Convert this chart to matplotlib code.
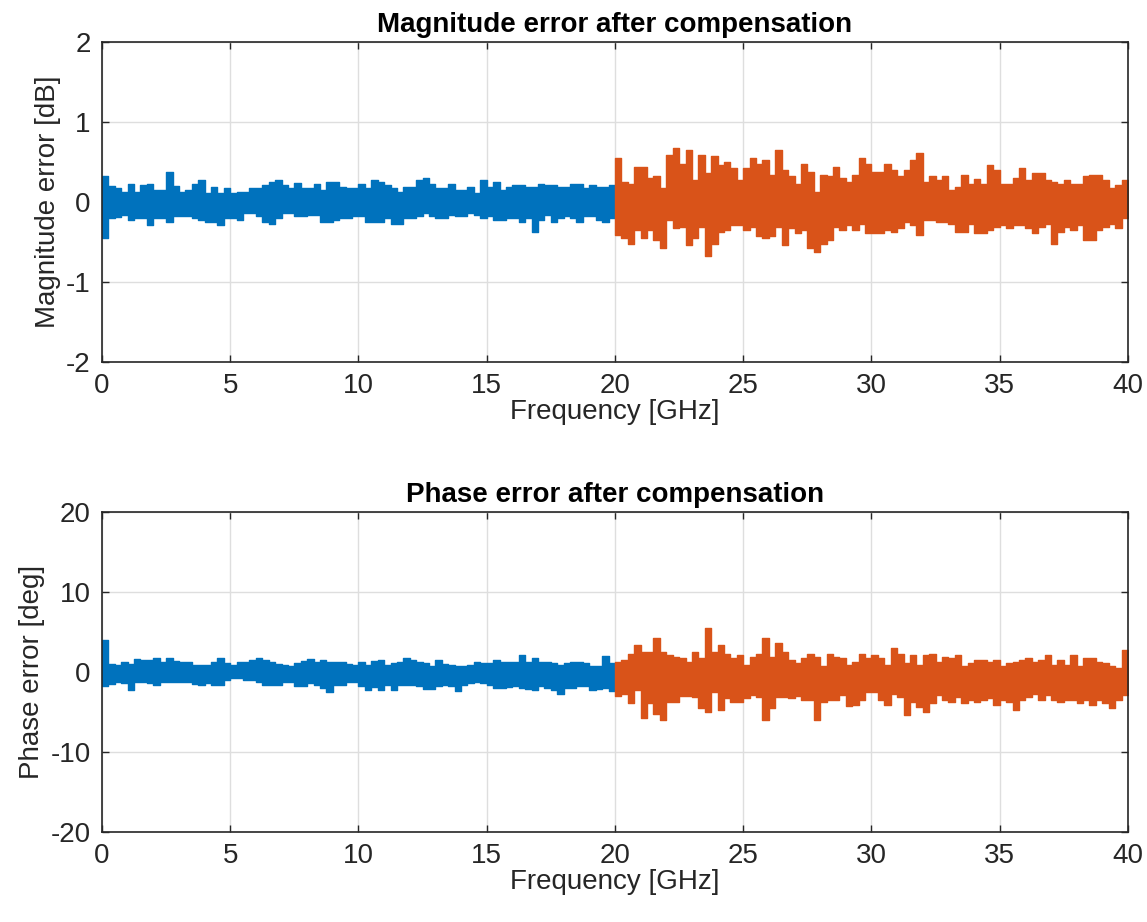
import numpy as np
import matplotlib
matplotlib.use('Agg')
import matplotlib.pyplot as plt

plt.rcParams['font.family'] = ['Liberation Sans', 'DejaVu Sans']
plt.rcParams['axes.unicode_minus'] = False

# frequency grid (GHz): envelope read in 0.25 GHz bins
bin_width = 0.25
band1_start = 0.0
band2_start = 20.0

x_ticks = [0, 5, 10, 15, 20, 25, 30, 35, 40]
mag_yticks = [-2, -1, 0, 1, 2]
phase_yticks = [-20, -10, 0, 10, 20]

# Magnitude error [dB], 0-20 GHz (upper / lower envelope of the trace)
mag_band1_upper = [0.33, 0.2, 0.17, 0.13, 0.23, 0.13, 0.21, 0.23, 0.15, 0.15,
                   0.38, 0.2, 0.13, 0.15, 0.23, 0.27, 0.11, 0.19, 0.11, 0.17,
                   0.11, 0.13, 0.13, 0.17, 0.17, 0.21, 0.25, 0.27, 0.21, 0.17,
                   0.24, 0.17, 0.17, 0.23, 0.15, 0.25, 0.25, 0.19, 0.17, 0.17,
                   0.23, 0.17, 0.27, 0.25, 0.21, 0.17, 0.13, 0.19, 0.19, 0.27,
                   0.3, 0.23, 0.17, 0.17, 0.23, 0.15, 0.15, 0.19, 0.11, 0.27,
                   0.19, 0.25, 0.15, 0.19, 0.21, 0.21, 0.19, 0.19, 0.23, 0.21,
                   0.21, 0.19, 0.19, 0.23, 0.23, 0.17, 0.21, 0.19, 0.19, 0.21]
mag_band1_lower = [-0.45, -0.2, -0.19, -0.16, -0.22, -0.2, -0.2, -0.29, -0.2, -0.2,
                   -0.25, -0.18, -0.18, -0.18, -0.2, -0.22, -0.25, -0.25, -0.29, -0.2,
                   -0.2, -0.22, -0.14, -0.14, -0.18, -0.25, -0.27, -0.2, -0.14, -0.14,
                   -0.18, -0.18, -0.16, -0.16, -0.25, -0.25, -0.22, -0.2, -0.2, -0.18,
                   -0.18, -0.25, -0.25, -0.25, -0.2, -0.27, -0.27, -0.2, -0.2, -0.17,
                   -0.14, -0.17, -0.2, -0.2, -0.16, -0.18, -0.18, -0.14, -0.16, -0.2,
                   -0.18, -0.22, -0.22, -0.2, -0.2, -0.25, -0.2, -0.37, -0.22, -0.16,
                   -0.25, -0.2, -0.18, -0.2, -0.25, -0.18, -0.18, -0.22, -0.25, -0.2]
# Magnitude error [dB], 20-40 GHz
mag_band2_upper = [0.55, 0.25, 0.23, 0.44, 0.44, 0.3, 0.32, 0.17, 0.59, 0.67,
                   0.48, 0.65, 0.27, 0.59, 0.36, 0.57, 0.46, 0.5, 0.42, 0.27,
                   0.42, 0.55, 0.48, 0.52, 0.34, 0.65, 0.4, 0.32, 0.23, 0.48,
                   0.38, 0.13, 0.34, 0.32, 0.44, 0.3, 0.25, 0.34, 0.55, 0.48,
                   0.38, 0.38, 0.48, 0.4, 0.33, 0.4, 0.52, 0.61, 0.25, 0.32,
                   0.27, 0.32, 0.15, 0.19, 0.34, 0.23, 0.29, 0.23, 0.46, 0.4,
                   0.23, 0.23, 0.3, 0.42, 0.27, 0.36, 0.36, 0.27, 0.25, 0.23,
                   0.27, 0.23, 0.23, 0.32, 0.34, 0.34, 0.27, 0.17, 0.21, 0.27]
mag_band2_lower = [-0.41, -0.45, -0.52, -0.35, -0.45, -0.35, -0.48, -0.58, -0.23, -0.33,
                   -0.31, -0.54, -0.45, -0.31, -0.68, -0.52, -0.37, -0.35, -0.29, -0.29,
                   -0.35, -0.31, -0.43, -0.45, -0.43, -0.31, -0.54, -0.33, -0.39, -0.35,
                   -0.58, -0.62, -0.52, -0.48, -0.31, -0.35, -0.29, -0.35, -0.27, -0.39,
                   -0.39, -0.39, -0.35, -0.37, -0.33, -0.25, -0.29, -0.41, -0.23, -0.23,
                   -0.25, -0.25, -0.27, -0.37, -0.37, -0.27, -0.39, -0.39, -0.35, -0.31,
                   -0.29, -0.33, -0.29, -0.29, -0.33, -0.39, -0.31, -0.27, -0.52, -0.37,
                   -0.31, -0.35, -0.29, -0.47, -0.47, -0.35, -0.31, -0.27, -0.33, -0.2]

# Phase error [deg], 0-20 GHz
phase_band1_upper = [4.0, 1.0, 0.9, 1.3, 1.0, 1.6, 1.5, 1.5, 1.7, 1.3,
                     1.8, 1.4, 1.3, 1.3, 0.9, 0.9, 0.9, 1.3, 1.8, 1.1,
                     0.9, 1.2, 1.3, 1.5, 1.8, 1.5, 1.3, 1.0, 0.9, 0.7,
                     1.1, 1.4, 1.6, 1.3, 1.5, 1.3, 1.3, 1.3, 1.0, 0.9,
                     1.3, 0.9, 1.4, 1.5, 0.9, 1.1, 1.3, 1.7, 1.5, 1.3,
                     1.1, 0.7, 1.5, 1.0, 0.9, 0.7, 0.7, 0.9, 1.3, 1.1,
                     1.1, 1.5, 1.3, 1.3, 1.3, 2.1, 1.3, 1.8, 1.3, 1.3,
                     1.1, 0.9, 1.1, 1.2, 1.2, 1.1, 0.7, 0.8, 2.0, 1.1]
phase_band1_lower = [-1.8, -1.5, -1.2, -1.4, -2.2, -1.2, -1.2, -1.4, -1.6, -1.2,
                     -1.2, -1.2, -1.2, -1.2, -1.5, -1.6, -1.4, -1.6, -1.6, -1.0,
                     -0.8, -0.8, -1.0, -1.0, -1.2, -1.6, -1.6, -1.6, -1.2, -1.2,
                     -1.8, -1.8, -1.4, -1.6, -2.0, -2.5, -1.6, -1.6, -1.3, -1.2,
                     -1.8, -2.2, -1.9, -2.2, -1.6, -2.2, -1.6, -1.6, -1.6, -1.8,
                     -2.1, -2.1, -1.8, -1.6, -1.8, -2.4, -1.6, -1.4, -1.2, -1.4,
                     -1.6, -2.0, -2.0, -1.9, -1.8, -2.0, -2.1, -2.2, -1.8, -2.0,
                     -2.3, -2.7, -2.0, -2.0, -1.8, -1.8, -2.2, -2.1, -2.0, -2.4]
# Phase error [deg], 20-40 GHz
phase_band2_upper = [1.2, 1.5, 2.2, 3.4, 2.5, 2.5, 4.2, 2.5, 2.1, 1.9,
                     1.8, 1.3, 2.5, 1.7, 5.5, 2.5, 3.4, 2.3, 1.7, 2.1,
                     0.9, 1.9, 2.3, 4.2, 1.9, 3.6, 2.5, 1.5, 1.1, 1.7,
                     2.3, 1.9, 0.7, 2.3, 1.9, 1.7, 0.9, 1.3, 2.3, 1.7,
                     2.1, 1.7, 0.9, 3.0, 2.3, 1.1, 2.1, 0.9, 2.1, 2.3,
                     1.3, 1.9, 1.7, 2.1, 0.7, 1.1, 1.5, 1.5, 1.3, 1.5,
                     0.7, 1.1, 1.3, 1.5, 1.7, 1.3, 1.5, 2.1, 0.9, 1.5,
                     0.9, 2.1, 0.7, 1.7, 1.7, 1.3, 1.1, 0.7, 0.5, 2.7]
phase_band2_lower = [-3.0, -2.8, -3.9, -2.3, -5.8, -3.9, -5.2, -6.0, -3.7, -3.7,
                     -3.0, -3.0, -3.1, -4.5, -5.0, -2.5, -4.8, -3.3, -3.7, -3.7,
                     -3.3, -2.9, -3.1, -6.0, -4.5, -3.1, -3.1, -3.3, -3.0, -3.5,
                     -3.5, -6.0, -3.7, -3.5, -3.5, -2.9, -4.3, -4.1, -3.5, -2.5,
                     -2.5, -3.5, -4.1, -2.7, -3.1, -5.4, -3.7, -4.4, -5.0, -3.9,
                     -2.9, -3.5, -3.7, -3.1, -3.9, -3.5, -3.7, -3.5, -3.3, -4.1,
                     -3.5, -3.7, -4.75, -3.5, -3.1, -2.7, -3.5, -2.9, -3.5, -3.7,
                     -3.5, -3.5, -3.9, -3.5, -4.1, -3.5, -3.9, -4.5, -3.5, -2.9]

BLUE = '#0072BD'
ORANGE = '#D95319'
AXC = '#262626'
FS = 20

fig = plt.figure(figsize=(11.47, 9.22), dpi=100)
ax1 = fig.add_axes([0.0889, 0.6074, 0.8945, 0.347])
ax2 = fig.add_axes([0.0889, 0.0976, 0.8945, 0.347])


def draw_band(ax, start, upper, lower, color):
    upper = np.asarray(upper, dtype=float)
    lower = np.asarray(lower, dtype=float)
    x = start + np.arange(len(upper) + 1) * bin_width
    ax.fill_between(x, np.append(lower, lower[-1]), np.append(upper, upper[-1]),
                    step='post', facecolor=color, edgecolor=color,
                    linewidth=1.0, zorder=3)


def style(ax, yticks, title, ylabel):
    ax.set_xlim(0, 40)
    ax.set_ylim(yticks[0], yticks[-1])
    ax.set_xticks(x_ticks)
    ax.set_yticks(yticks)
    ax.grid(True, color='#dedede', linewidth=1.0, zorder=0)
    ax.set_axisbelow(True)
    for s in ax.spines.values():
        s.set_color(AXC)
        s.set_linewidth(1.2)
        s.set_zorder(5)
    ax.tick_params(direction='in', length=5, width=1.0, colors=AXC,
                   top=True, right=True, labelsize=FS, pad=8)
    ax.set_title(title, fontsize=FS, fontweight='bold', color='black', pad=7)
    ax.set_xlabel('Frequency [GHz]', fontsize=FS, color=AXC, labelpad=0)
    ax.set_ylabel(ylabel, fontsize=FS, color=AXC, labelpad=4)


draw_band(ax1, band1_start, mag_band1_upper, mag_band1_lower, BLUE)
draw_band(ax1, band2_start, mag_band2_upper, mag_band2_lower, ORANGE)
style(ax1, mag_yticks, 'Magnitude error after compensation', 'Magnitude error [dB]')

draw_band(ax2, band1_start, phase_band1_upper, phase_band1_lower, BLUE)
draw_band(ax2, band2_start, phase_band2_upper, phase_band2_lower, ORANGE)
style(ax2, phase_yticks, 'Phase error after compensation', 'Phase error [deg]')

fig.savefig('out.png', dpi=100, facecolor='white')
